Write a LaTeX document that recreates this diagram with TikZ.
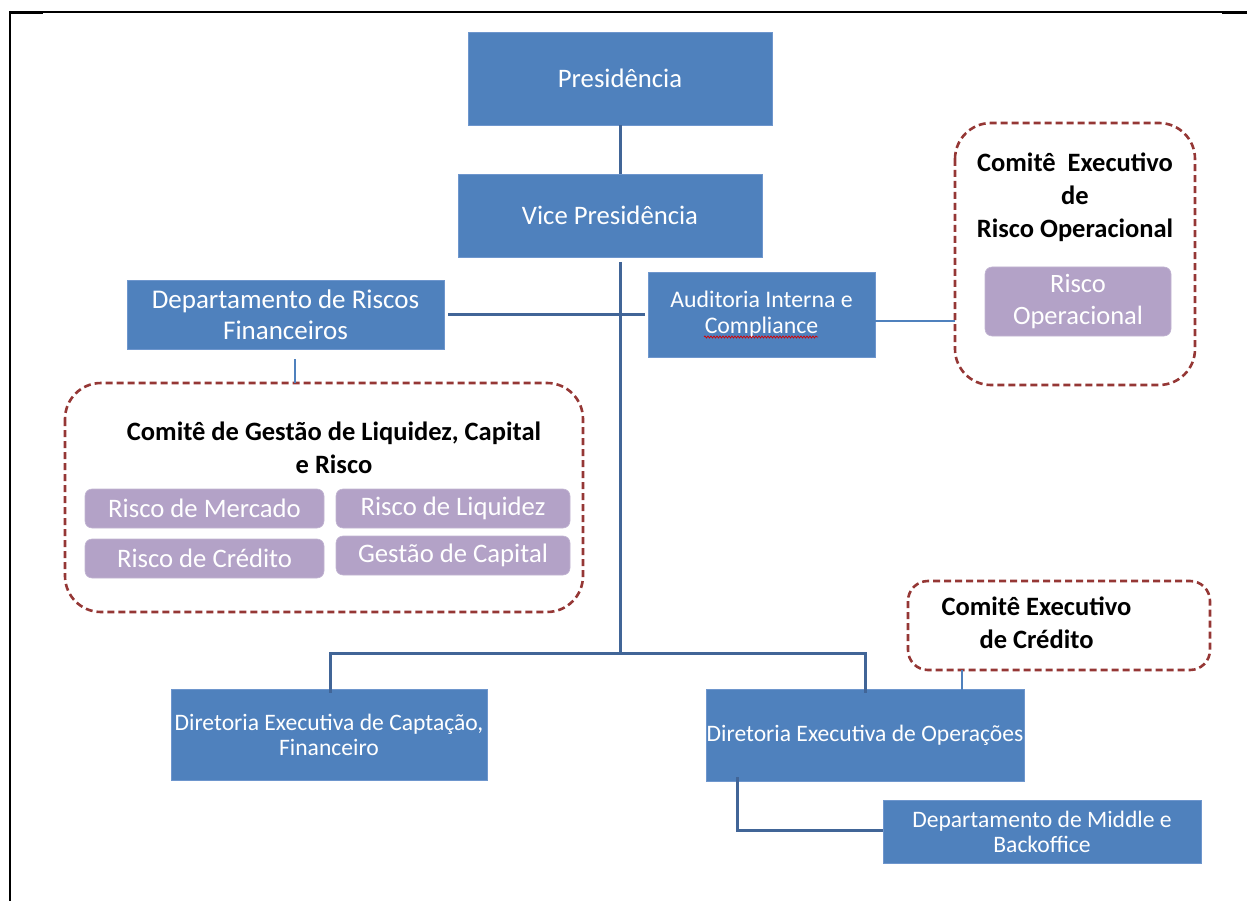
\documentclass[tikz,border=0pt]{standalone}
\usepackage{fontspec}
\setmainfont{Carlito}
\usetikzlibrary{decorations.pathmorphing}
\definecolor{boxblue}{RGB}{79,129,189}
\definecolor{boxedge}{RGB}{110,150,205}
\definecolor{lineblue}{RGB}{65,101,151}
\definecolor{thinblue}{RGB}{79,129,189}
\definecolor{purplefill}{RGB}{179,162,199}
\definecolor{dashred}{RGB}{149,55,53}
\tikzset{
  bluebox/.style={fill=boxblue, draw=boxedge, line width=0.8pt, text=white, align=center, inner sep=0pt},
  purplebox/.style={fill=purplefill, draw=purplefill!80!white, line width=0.6pt, rounded corners=7pt, text=white, align=center, inner sep=0pt},
  committee/.style={draw=dashred, line width=2.6pt, dash pattern=on 7pt off 4pt, rounded corners=#1},
  ctitle/.style={font=\fontsize{26.5}{33}\selectfont\bfseries, align=center, text=black},
  thick link/.style={draw=lineblue, line width=3pt},
  thin link/.style={draw=thinblue, line width=1.6pt},
}
\begin{document}
\begin{tikzpicture}[x=1pt,y=-1pt]
\useasboundingbox (0,0) rectangle (1247,901);
% page border
\draw[line width=1.6pt] (10,12) -- (1247,12);
\draw[line width=2.6pt] (10,11) -- (10,901);
\draw[line width=3.2pt] (9,12.5) -- (43,12.5);
\draw[line width=3.2pt] (1222,12.5) -- (1247,12.5);

% blue boxes
\node[bluebox, minimum width=304pt, minimum height=93pt, font=\fontsize{26.7}{30}\selectfont] (pres) at (620,78.5) {Presidência};
\node[bluebox, minimum width=304pt, minimum height=83pt, font=\fontsize{26.7}{30}\selectfont] (vice) at (610,215.5) {Vice Presidência};
\node[bluebox, minimum width=317pt, minimum height=69pt, font=\fontsize{27}{31}\selectfont] (dept) at (285.5,314.5) {Departamento de Riscos\\Financeiros};
\node[bluebox, minimum width=227pt, minimum height=85pt, font=\fontsize{23.8}{26}\selectfont] (aud) at (761.5,314.5) {Auditoria Interna e\\Compliance};
\node[bluebox, minimum width=316pt, minimum height=91pt, font=\fontsize{23.6}{25}\selectfont] (capt) at (329,734.5) {Diretoria Executiva de Captação,\\Financeiro};
\node[bluebox, minimum width=318pt, minimum height=92pt, font=\fontsize{23.6}{25}\selectfont] (oper) at (865,735) {Diretoria Executiva de Operações};
\node[bluebox, minimum width=318pt, minimum height=63pt, font=\fontsize{23.6}{25}\selectfont] (middle) at (1042,831.5) {Departamento de Middle e\\Backoffice};

% spell-check squiggle
\coordinate (sqa) at (704,337);
\coordinate (sqb) at (818,337);
\draw[red!85!black, line width=0.7pt, decorate, decoration={snake, amplitude=1pt, segment length=3pt}] (sqa) -- (sqb);

% committee: risco operacional
\draw[committee=36pt] (955,123) rectangle (1195,385);
\node[ctitle] (roptitle) at (1075,197) {Comitê\ \ Executivo\\de\\Risco Operacional};
\node[purplebox, minimum width=186pt, minimum height=69pt, font=\fontsize{26.5}{32}\selectfont] (rop) at (1078,301.5) {Risco\\Operacional};
\coordinate (ropleft) at (955,321);

% committee: gestao
\draw[committee=36pt] (65,383) rectangle (583,612);
\coordinate (gestop) at (295,383);
\node[ctitle] (gestitle) at (334,448) {Comitê de Gestão de Liquidez, Capital\\e Risco};
\node[purplebox, minimum width=239pt, minimum height=39pt, font=\fontsize{26.7}{28}\selectfont] (merc) at (204.5,508.5) {Risco de Mercado};
\node[purplebox, minimum width=234pt, minimum height=39pt, font=\fontsize{26.7}{28}\selectfont] (liq) at (453,508.5) {Risco de Liquidez};
\node[purplebox, minimum width=239pt, minimum height=39pt, font=\fontsize{26.7}{28}\selectfont] (cred) at (204.5,558.5) {Risco de Crédito};
\node[purplebox, minimum width=234pt, minimum height=39pt, font=\fontsize{26.7}{28}\selectfont] (cap) at (453,555.5) {Gestão de Capital};

% committee: credito
\draw[committee=20pt] (908,581) rectangle (1210,670);
\node[ctitle] (credtitle) at (1036.5,623) {Comitê Executivo\\de Crédito};
\coordinate (credbot) at (962,670);

% connectors
\coordinate (hubtop) at (620,262);
\coordinate (hub) at (620,653);
\coordinate (busl) at (330,653);
\coordinate (busr) at (865,653);
\draw[thick link] (pres.south) -- (pres.south |- vice.north);
\draw[thick link] (hubtop) -- (hub);
\draw[thick link, shorten <=4pt, shorten >=3pt] (dept.east) -- (aud.west);
\draw[thick link] ([yshift=-4pt]capt.north -| busl) -- (busl) -- (busr) -- ([yshift=-4pt]oper.north -| busr);
\draw[thin link] (aud.east |- ropleft) -- (ropleft);
\draw[thin link, shorten <=10pt] (dept.south -| gestop) -- (gestop);
\draw[thin link] (credbot) -- ([yshift=-11pt]credbot |- oper.north);
\coordinate (opdrop) at (737,830);
\draw[thick link] ([yshift=4pt]oper.south -| opdrop) -- (opdrop) -- (opdrop -| middle.west);
\end{tikzpicture}
\end{document}
